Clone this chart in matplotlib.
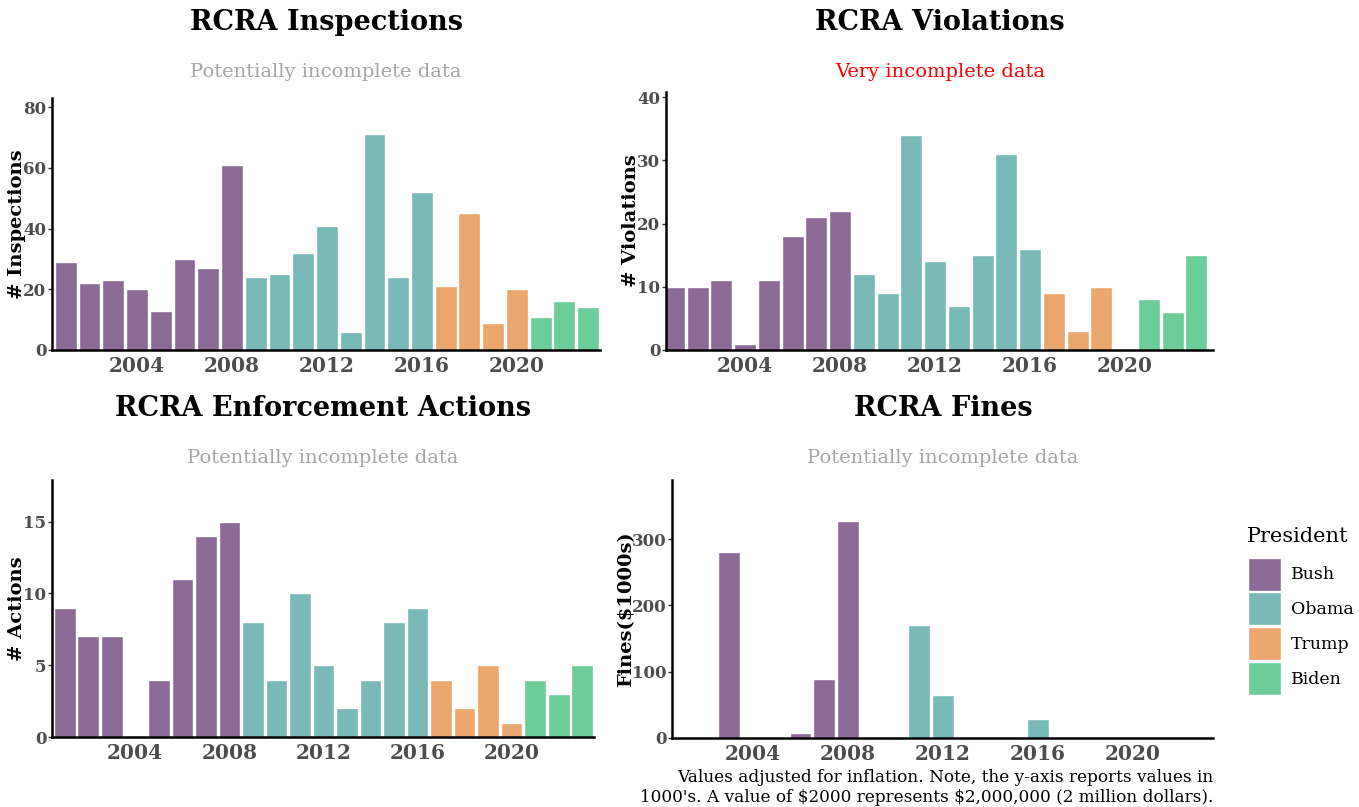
import matplotlib
matplotlib.use("Agg")
import matplotlib.pyplot as plt
from matplotlib.patches import Patch

plt.rcParams['font.family'] = ['DejaVu Serif']

years = list(range(2001, 2024))
presidents = ["Bush"] * 8 + ["Obama"] * 8 + ["Trump"] * 4 + ["Biden"] * 3
pres_order = ["Bush", "Obama", "Trump", "Biden"]
pres_colors = {"Bush": "#8c6a96", "Obama": "#79b9b8", "Trump": "#eba76e", "Biden": "#6ccd9a"}

inspections = [29, 22, 23, 20, 13, 30, 27, 61, 24, 25, 32, 41, 6, 71, 24, 52, 21, 45, 9, 20, 11, 16, 14]
violations = [10, 10, 11, 1, 11, 18, 21, 22, 12, 9, 34, 14, 7, 15, 31, 16, 9, 3, 10, 0, 8, 6, 15]
actions = [9, 7, 7, 0, 4, 11, 14, 15, 8, 4, 10, 5, 2, 4, 8, 9, 4, 2, 5, 1, 4, 3, 5]
fines = [0, 0, 280, 0, 0, 8, 89, 327, 0, 0, 170, 65, 0, 0, 0, 28, 0, 0, 0, 0, 0, 0, 1.5]

x_ticks = [2004, 2008, 2012, 2016, 2020]

W, H = 1359, 807
fig = plt.figure(figsize=(W / 100, H / 100), dpi=100)


def ax_rect(l, t, r, b):
    return [l / W, 1 - b / H, (r - l) / W, (b - t) / H]


panels = [
    dict(rect=ax_rect(52, 98, 600, 350), data=inspections, title="RCRA Inspections",
         sub="Potentially incomplete data", subcol="#a6a6a6", ylabel="# Inspections",
         ylim=83, yticks=[0, 20, 40, 60, 80], xlim=(2000.42, 2023.5), tx=326, lx=26),
    dict(rect=ax_rect(666, 92, 1213, 350), data=violations, title="RCRA Violations",
         sub="Very incomplete data", subcol="#ff0000", ylabel="# Violations",
         ylim=40.8, yticks=[0, 10, 20, 30, 40], xlim=(2000.67, 2023.7), tx=940, lx=640),
    dict(rect=ax_rect(52, 480, 594, 737), data=actions, title="RCRA Enforcement Actions",
         sub="Potentially incomplete data", subcol="#a6a6a6", ylabel="# Actions",
         ylim=17.9, yticks=[0, 5, 10, 15], xlim=(2000.46, 2023.5), tx=323, lx=26),
    dict(rect=ax_rect(672, 480, 1213, 738), data=fines, title="RCRA Fines",
         sub="Potentially incomplete data", subcol="#a6a6a6", ylabel="Fines($1000s)",
         ylim=389, yticks=[0, 100, 200, 300], xlim=(2000.59, 2023.37), tx=943, lx=635),
]

title_y = {0: 22, 1: 22, 2: 409, 3: 409}
sub_y = {0: 72, 1: 72, 2: 458, 3: 458}

for i, p in enumerate(panels):
    ax = fig.add_axes(p["rect"])
    cols = [pres_colors[pr] for pr in presidents]
    ax.bar(years, p["data"], width=0.92, color=cols, edgecolor="white", linewidth=1.0)
    ax.set_xlim(*p["xlim"])
    ax.set_ylim(0, p["ylim"])
    ax.set_xticks(x_ticks)
    ax.set_xticklabels([str(t) for t in x_ticks], fontsize=14.5, fontweight="bold", color="#4d4d4d")
    ax.set_yticks(p["yticks"])
    ax.set_yticklabels([str(t) for t in p["yticks"]], fontsize=12, fontweight="bold", color="#4d4d4d")
    ax.tick_params(axis="x", length=0, pad=4)
    ax.tick_params(axis="y", length=3, width=1, color="#333333", pad=1)
    for s in ["top", "right"]:
        ax.spines[s].set_visible(False)
    for s in ["left", "bottom"]:
        ax.spines[s].set_linewidth(1.8)
        ax.spines[s].set_color("black")
    ax.set_ylabel(p["ylabel"].replace("$", r"\$"), fontsize=14, fontweight="bold")
    l, b, w, h = p["rect"]
    ax.yaxis.set_label_coords((p["lx"] / W - l) / w, 0.5)
    fig.text(p["tx"] / W, 1 - title_y[i] / H, p["title"], fontsize=19.5, fontweight="bold",
             ha="center", va="center")
    fig.text(p["tx"] / W, 1 - sub_y[i] / H, p["sub"], fontsize=14, color=p["subcol"],
             ha="center", va="center")

fig.text(1213 / W, 1 - 778 / H, "Values adjusted for inflation. Note, the y-axis reports values in",
         fontsize=12.2, ha="right", va="center")
fig.text(1213 / W, 1 - 797 / H, r"1000's. A value of \$2000 represents \$2,000,000 (2 million dollars).",
         fontsize=12.2, ha="right", va="center")

fig.text(1247 / W, 1 - 537 / H, "President", fontsize=15, ha="left", va="center")
handles = [Patch(facecolor=pres_colors[pr], edgecolor="white", label=pr) for pr in pres_order]
leg = fig.legend(handles=handles, loc="upper left",
                 bbox_to_anchor=(1232 / W, 1 - 542 / H), frameon=False,
                 fontsize=12.5, handlelength=1.9, handleheight=2.55,
                 labelspacing=0.1, handletextpad=0.6)

fig.savefig("out.png", dpi=100)
